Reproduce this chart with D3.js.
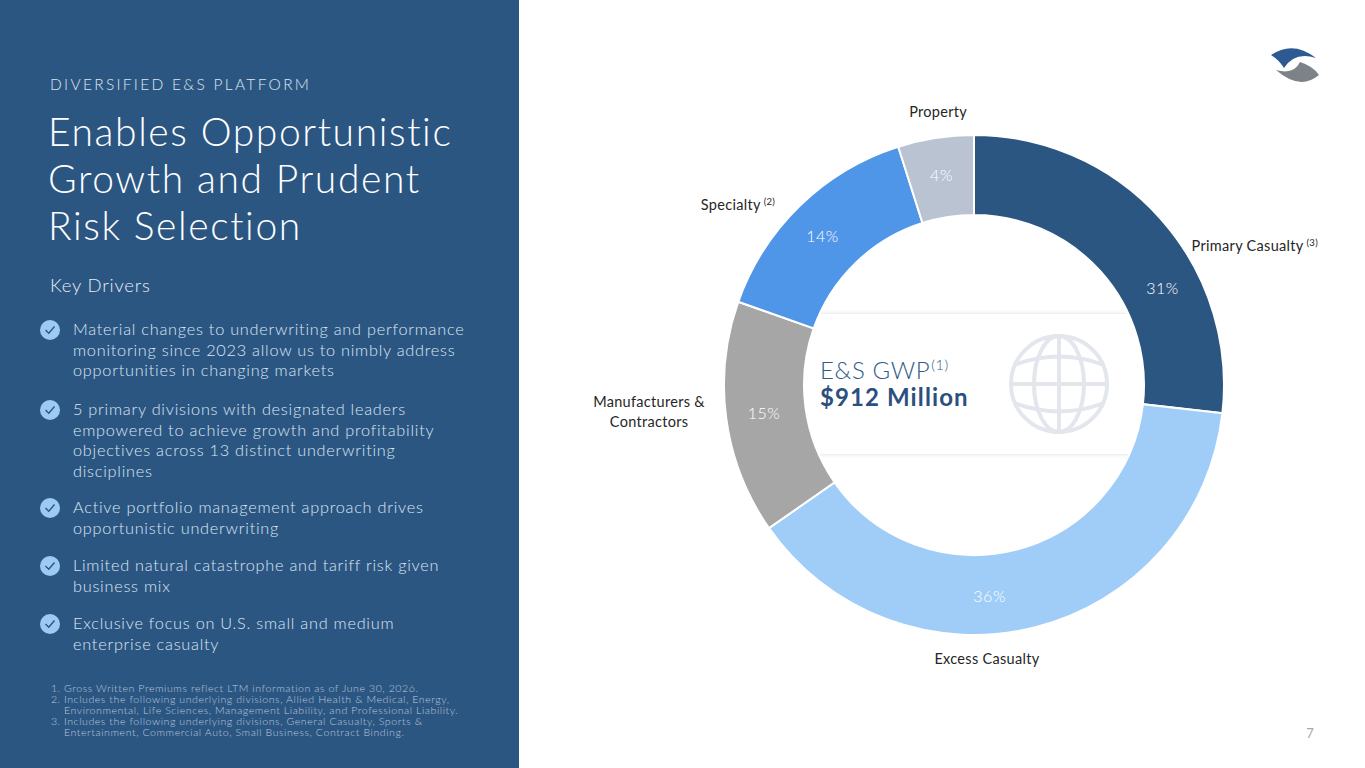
<!DOCTYPE html>
<html>
<head>
<meta charset="utf-8">
<script src="https://cdn.jsdelivr.net/npm/d3@7"></script>
<style>
  html, body { margin: 0; padding: 0; background: #fff; }
  svg { display: block; font-family: Lato, "Open Sans", sans-serif; }
</style>
</head>
<body>
<div id="chart"></div>
<script>
// slice data
var categories = ["Primary Casualty", "Excess Casualty", "Manufacturers & Contractors", "Specialty", "Property"];
var footRefs = ["(3)", "", "", "(2)", ""];
// printed percentages
var shareLabels = ["31%", "36%", "15%", "14%", "4%"];
// arc sizes as drawn (measured from slice angles)
var sliceShares = [26.8, 38.5, 15.1, 14.7, 4.9];
var sliceColors = ["#2c5682", "#a0cdf8", "#a6a6a6", "#4f96e8", "#b9c3d2"];

var bullets = [
    ["Material changes to underwriting and performance", "monitoring since 2023 allow us to nimbly address", "opportunities in changing markets"],
    ["5 primary divisions with designated leaders", "empowered to achieve growth and profitability", "objectives across 13 distinct underwriting", "disciplines"],
    ["Active portfolio management approach drives", "opportunistic underwriting"],
    ["Limited natural catastrophe and tariff risk given", "business mix"],
    ["Exclusive focus on U.S. small and medium", "enterprise casualty"]
];
var footnotes = [
    ["1.", "Gross Written Premiums reflect LTM information as of June 30, 2026."],
    ["2.", "Includes the following underlying divisions, Allied Health & Medical, Energy,"],
    ["", "Environmental, Life Sciences, Management Liability, and Professional Liability."],
    ["3.", "Includes the following underlying divisions, General Casualty, Sports &"],
    ["", "Entertainment, Commercial Auto, Small Business, Contract Binding."]
];

var W = 1365, H = 768;
var svg = d3.select("#chart").append("svg")
    .attr("width", W).attr("height", H);

// ---- left panel ----
svg.append("rect").attr("x", 0).attr("y", 0).attr("width", 519).attr("height", H)
    .attr("fill", "#2c5682");

svg.append("text").attr("x", 50).attr("y", 90)
    .attr("fill", "#dce6f1").attr("font-size", 15.5).attr("font-weight", 300)
    .attr("letter-spacing", 2.3)
    .text("DIVERSIFIED E&S PLATFORM");

var titleLines = ["Enables Opportunistic", "Growth and Prudent", "Risk Selection"];
svg.append("g").selectAll("text").data(titleLines).enter().append("text")
    .attr("x", 48).attr("y", function (d, i) { return 146 + i * 47; })
    .attr("fill", "#ffffff").attr("font-size", 39).attr("font-weight", 300)
    .attr("letter-spacing", 1.6)
    .text(function (d) { return d; });

svg.append("text").attr("x", 50).attr("y", 292)
    .attr("fill", "#e6eef7").attr("font-size", 18.5).attr("font-weight", 300)
    .attr("letter-spacing", 0.8)
    .text("Key Drivers");

var bulletTop = [335, 415, 513, 571, 629];
var bg = svg.append("g").selectAll("g").data(bullets).enter().append("g")
    .attr("transform", function (d, i) { return "translate(0," + bulletTop[i] + ")"; });
bg.append("circle").attr("cx", 50).attr("cy", -5).attr("r", 10).attr("fill", "#9ccaf5");
bg.append("path").attr("d", "M45.5,-5 L48.8,-1.8 L54.5,-8.5")
    .attr("fill", "none").attr("stroke", "#2c5682").attr("stroke-width", 1.4);
bg.selectAll("text").data(function (d) { return d; }).enter().append("text")
    .attr("x", 73).attr("y", function (d, i) { return i * 20.5; })
    .attr("fill", "#dbe6f2").attr("font-size", 16.3).attr("font-weight", 300)
    .attr("letter-spacing", 0.75)
    .text(function (d) { return d; });

var fn = svg.append("g").selectAll("g").data(footnotes).enter().append("g")
    .attr("transform", function (d, i) { return "translate(0," + (692 + i * 11) + ")"; });
fn.append("text").attr("x", 51).attr("fill", "#b7c7da").attr("font-size", 10.6)
    .attr("font-weight", 300)
    .text(function (d) { return d[0]; });
fn.append("text").attr("x", 64).attr("fill", "#b7c7da").attr("font-size", 10.6)
    .attr("font-weight", 300).attr("letter-spacing", 0.55)
    .text(function (d) { return d[1]; });

// ---- logo ----
var logo = svg.append("g");
logo.append("path")
    .attr("d", "M1271,55 Q1293,40 1316,58 Q1295,51 1284,68 Q1279,60 1271,55 Z")
    .attr("fill", "#2d5a93");
logo.append("path")
    .attr("d", "M1276,70 Q1294,75 1300,62 Q1313,66 1319,75 Q1300,91 1276,70 Z")
    .attr("fill", "#7d8289");

// ---- donut ----
var cx = 974, cy = 385, rOuter = 250, rInner = 170;

var defs = svg.append("defs");
var f = defs.append("filter").attr("id", "shadow").attr("x", "-10%").attr("y", "-20%")
    .attr("width", "120%").attr("height", "140%");
f.append("feDropShadow").attr("dx", 0).attr("dy", 0).attr("stdDeviation", 2.5)
    .attr("flood-color", "#000").attr("flood-opacity", 0.13);

// info box sits under the ring
svg.append("rect").attr("x", 780).attr("y", 314).attr("width", 385).attr("height", 140)
    .attr("fill", "#fff").attr("filter", "url(#shadow)");

var pie = d3.pie().sort(null).value(function (d) { return d; });
var arcs = pie(sliceShares);
var arc = d3.arc().innerRadius(rInner).outerRadius(rOuter);

var donut = svg.append("g").attr("transform", "translate(" + cx + "," + cy + ")");
donut.selectAll("path").data(arcs).enter().append("path")
    .attr("d", arc)
    .attr("fill", function (d, i) { return sliceColors[i]; })
    .attr("stroke", "#fff").attr("stroke-width", 2);

// percent labels: slice mid-angle, a few nudged as in the original
var labelNudge = [14.5, 10, 0, -1.5, 0];
var toRad = Math.PI / 180;
donut.selectAll("text.pct").data(arcs).enter().append("text")
    .attr("class", "pct")
    .attr("transform", function (d, i) {
        var a = (d.startAngle + d.endAngle) / 2 + labelNudge[i] * toRad;
        return "translate(" + (212 * Math.sin(a)) + "," + (-212 * Math.cos(a)) + ")";
    })
    .attr("text-anchor", "middle").attr("dy", "0.36em")
    .attr("fill", "#fff").attr("font-size", 16).attr("font-weight", 300)
    .attr("letter-spacing", 0.5)
    .text(function (d, i) { return shareLabels[i]; });

// category labels, polar placement around the ring
var catPlace = [
    { a: 57.5, r: 258, anchor: "start" },
    { a: 177.3, r: 274, anchor: "middle" },
    { a: 265.4, r: 326, anchor: "middle" },
    { a: 312.1, r: 268, anchor: "end" },
    { a: 352.5, r: 275, anchor: "middle" }
];
var cat = donut.selectAll("text.cat").data(categories).enter().append("text")
    .attr("class", "cat")
    .attr("x", function (d, i) { return catPlace[i].r * Math.sin(catPlace[i].a * toRad); })
    .attr("y", function (d, i) { return -catPlace[i].r * Math.cos(catPlace[i].a * toRad); })
    .attr("text-anchor", function (d, i) { return catPlace[i].anchor; })
    .attr("fill", "#262626").attr("font-size", 14.5)
    .attr("letter-spacing", 0.3);
cat.each(function (d, i) {
    var t = d3.select(this);
    var x = t.attr("x");
    if (d.indexOf("Manufacturers") === 0) {
        t.append("tspan").attr("x", x).attr("dy", "-0.32em").text("Manufacturers &");
        t.append("tspan").attr("x", x).attr("dy", "1.4em").text("Contractors");
    } else {
        t.attr("dy", "0.35em");
        t.append("tspan").text(d);
        if (footRefs[i]) {
            t.append("tspan").attr("font-size", 9.5).attr("dx", 3).attr("dy", -5).text(footRefs[i]);
        }
    }
});

// center content
var gwp = svg.append("text").attr("x", 820).attr("y", 379)
    .attr("fill", "#2f5b89").attr("font-size", 24).attr("font-weight", 300)
    .attr("letter-spacing", 0.6);
gwp.append("tspan").text("E&S GWP");
gwp.append("tspan").attr("font-size", 14.5).attr("dy", -9).attr("dx", 1).text("(1)");
svg.append("text").attr("x", 820).attr("y", 406)
    .attr("fill", "#2b4f7e").attr("font-size", 24).attr("font-weight", 700)
    .attr("letter-spacing", 1.1)
    .text("$912 Million");

// globe icon
var globe = svg.append("g").attr("transform", "translate(1059,384)")
    .attr("fill", "none").attr("stroke", "#e3e6ec").attr("stroke-width", 4);
globe.append("circle").attr("r", 48);
globe.append("ellipse").attr("rx", 25).attr("ry", 48);
globe.append("line").attr("x1", 0).attr("y1", -48).attr("x2", 0).attr("y2", 48);
globe.append("line").attr("x1", -48).attr("y1", 0).attr("x2", 48).attr("y2", 0);
globe.append("path").attr("d", "M-45,-19 Q0,-36 45,-19");
globe.append("path").attr("d", "M-45,19 Q0,36 45,19");

// page number
svg.append("text").attr("x", 1310).attr("y", 738).attr("text-anchor", "middle")
    .attr("fill", "#a8a8a8").attr("font-size", 13).text("7");
</script>
</body>
</html>
